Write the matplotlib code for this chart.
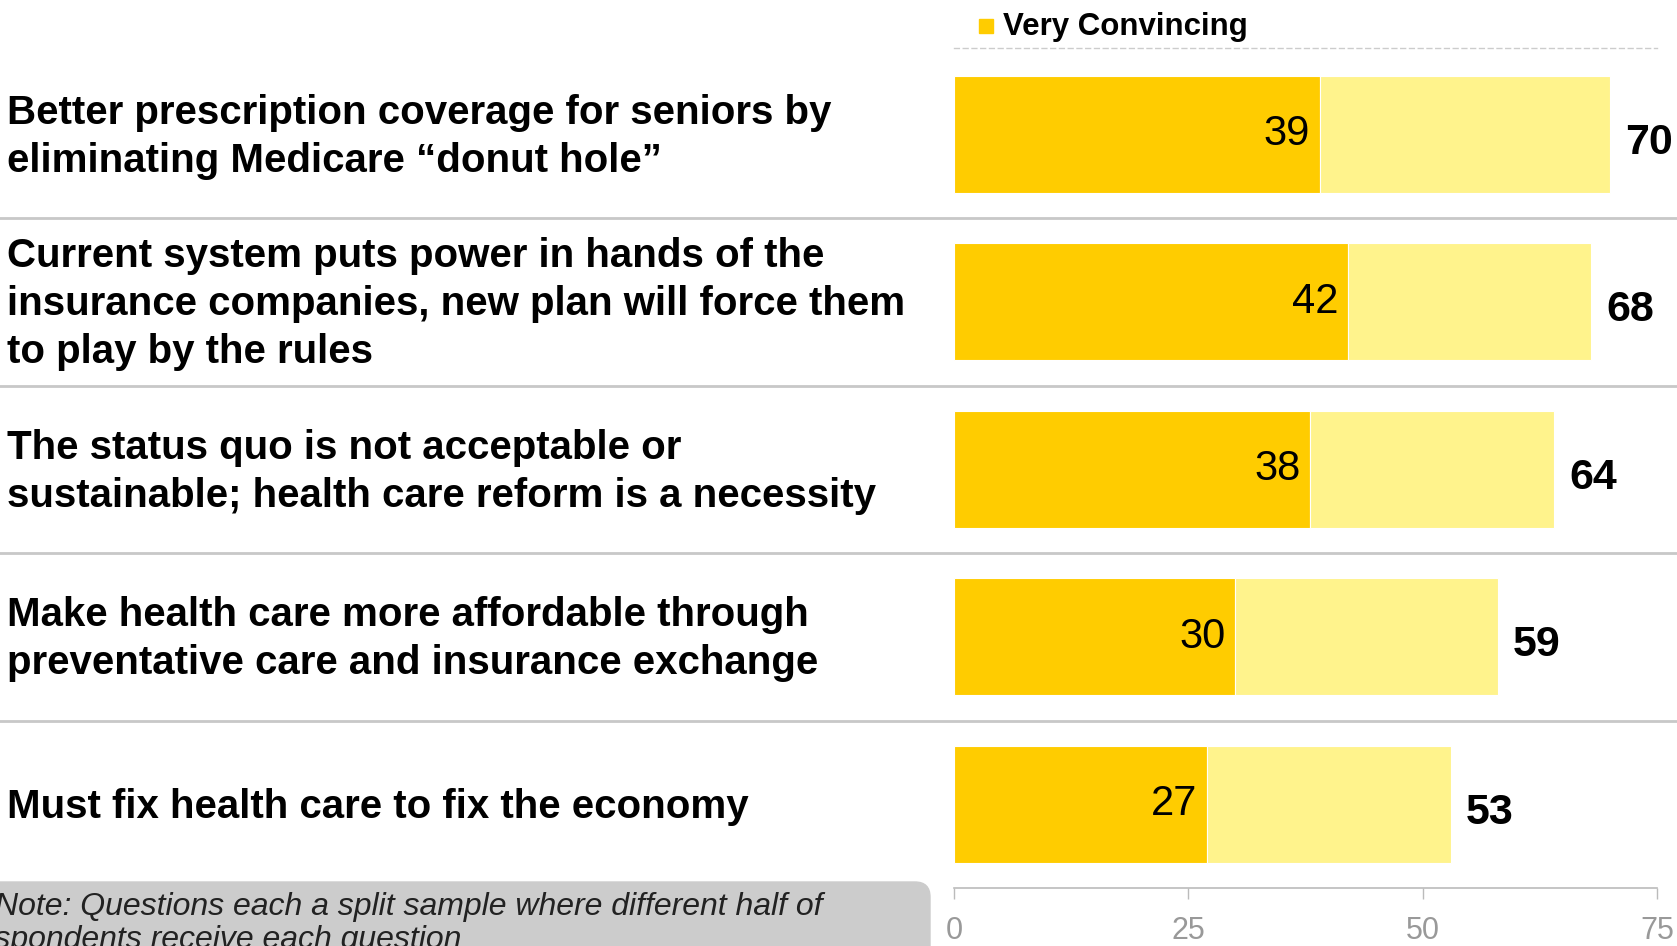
import matplotlib.pyplot as plt
from matplotlib.patches import Rectangle, FancyBboxPatch

plt.rcParams['font.family'] = ['Liberation Sans', 'DejaVu Sans']

labels = [
    "Better prescription coverage for seniors by\neliminating Medicare \u201cdonut hole\u201d",
    "Current system puts power in hands of the\ninsurance companies, new plan will force them\nto play by the rules",
    "The status quo is not acceptable or\nsustainable; health care reform is a necessity",
    "Make health care more affordable through\npreventative care and insurance exchange",
    "Must fix health care to fix the economy",
]
very = [39, 42, 38, 30, 27]
somewhat = [31, 26, 26, 28, 26]
total = [70, 68, 64, 59, 53]
ticks = [0, 25, 50, 75]

dark = "#FFCC00"
light = "#FFF38C"

W, H = 1677, 946
fig = plt.figure(figsize=(W / 100, H / 100), dpi=100)
ax = fig.add_axes([954 / W, (H - 888) / H, 703 / W, 840 / H])

y = list(range(len(labels)))
ax.barh(y, very, height=0.70, color=dark, edgecolor="white", linewidth=0.8)
ax.barh(y, somewhat, left=very, height=0.70, color=light, edgecolor="white", linewidth=0.8)

for i in y:
    end = very[i] + somewhat[i]
    ax.text(very[i] - 1.0, i, str(very[i]), ha="right", va="center", fontsize=30)
    ax.text(end + 1.6, i + 0.05, str(total[i]), ha="left", va="center",
            fontsize=31, fontweight="bold")
    ax.text(-101.0, i + 0.015, labels[i], ha="left", va="center", fontsize=29,
            fontweight="bold", linespacing=1.33, clip_on=False)

for i in y[:-1]:
    ax.axhline(i + 0.5, xmin=-1.36, xmax=1.03, color="#c8c8c8", lw=2, clip_on=False)

ax.set_xlim(0, 75)
ax.set_ylim(4.5, -0.516)
ax.set_xticks(ticks)
ax.set_yticks([])
ax.tick_params(axis="x", length=8, width=1, color="#bbbbbb", colors="#999999",
               labelsize=22, pad=12)
for s in ["left", "right"]:
    ax.spines[s].set_visible(False)
ax.spines["bottom"].set_color("#bbbbbb")
ax.spines["bottom"].set_linewidth(1.2)
ax.spines["top"].set_color("#cccccc")
ax.spines["top"].set_linewidth(1)
ax.spines["top"].set_linestyle((0, (3.5, 2.8)))

# legend
fig.patches.append(Rectangle((979 / W, (H - 33) / H), 14 / W, 14 / H,
                             transform=fig.transFigure, color=dark))
fig.text(1003 / W, (H - 27) / H, "Very Convincing", ha="left", va="center",
         fontsize=22.5, fontweight="bold")

# note box
fig.patches.append(FancyBboxPatch((-0.3, -0.3), 9.6, 0.94, transform=fig.dpi_scale_trans,
                                  boxstyle="round,pad=0,rounding_size=0.15",
                                  color="#cccccc", clip_on=False))
fig.text(-0.003, (H - 907) / H, "Note: Questions each a split sample where different half of",
         ha="left", va="center", fontsize=23, style="italic", color="#222222")
fig.text(-0.02, (H - 940) / H, "respondents receive each question",
         ha="left", va="center", fontsize=23, style="italic", color="#222222")

fig.savefig("out.png", dpi=100)
